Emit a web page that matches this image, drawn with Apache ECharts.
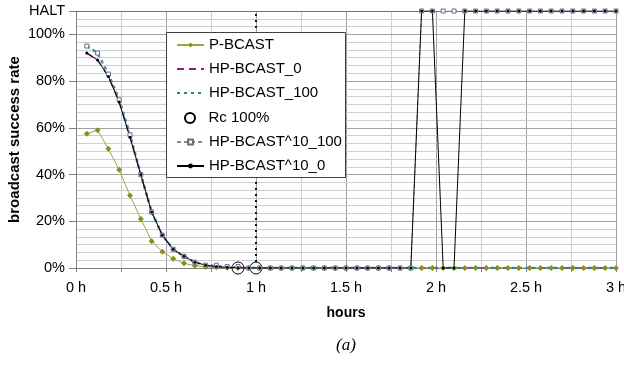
<!DOCTYPE html>
<html><head><meta charset="utf-8">
<script src="https://cdn.jsdelivr.net/npm/echarts@6/dist/echarts.min.js"></script>
<style>html,body{margin:0;padding:0;background:#fff}#c{width:624px;height:369px}</style>
</head><body><div id="c"></div>
<script>
const HALT = 110;
const hours = [0.06,0.12,0.18,0.24,0.30,0.36,0.42,0.48,0.54,0.60,0.66,0.72,0.78,0.84,0.90,0.96,1.02,1.08,1.14,1.20,1.26,1.32,1.38,1.44,1.50,1.56,1.62,1.68,1.74,1.80,1.86,1.92,1.98,2.04,2.10,2.16,2.22,2.28,2.34,2.40,2.46,2.52,2.58,2.64,2.70,2.76,2.82,2.88,2.94,3.00];
const pBcast = [57.5,59.0,51.0,42.0,31.0,21.0,11.5,7.0,4.0,2.0,1.0,0.5,0.3,0.1,0,0,0,0,0,0,0,0,0,0,0,0,0,0,0,0,0,0,0,0,0,0,0,0,0,0,0,0,0,0,0,0,0,0,0,0];
const hpBcast0 = [92,89,82,71,56,40,24,14,8,5,2.5,1.2,0.6,0.3,0.1,0,0,0,0,0,0,0,0,0,0,0,0,0,0,0,0,0,0,0,0,0,0,0,0,0,0,0,0,0,0,0,0,0,0,0];
const hpBcast100 = [95,92,83,72,57,40,24,14,8,5,2.5,1.2,0.6,0.3,0.1,0,0,0,0,0,0,0,0,0,0,0,0,0,0,0,0,0,0,0,0,0,0,0,0,0,0,0,0,0,0,0,0,0,0,0];
const hp10_100 = [95,92,83,72,57,40,24,14,8,5,2.5,1.2,1.2,0.6,0.6,0,0,0,0,0,0,0,0,0,0,0,0,0,0,0,0,HALT,HALT,HALT,HALT,HALT,HALT,HALT,HALT,HALT,HALT,HALT,HALT,HALT,HALT,HALT,HALT,HALT,HALT,HALT];
const hp10_0 = [92,89,82,71,56,40,24,14,8,5,2.5,1.2,0.6,0.3,0.1,0,0,0,0,0,0,0,0,0,0,0,0,0,0,0,0,HALT,HALT,0,0,HALT,HALT,HALT,HALT,HALT,HALT,HALT,HALT,HALT,HALT,HALT,HALT,HALT,HALT,HALT];
const rcHours = [0.9, 1.0];
const rcValues = [0, 0];
const markerHour = 1.0;
const xTickValues = [0,0.5,1,1.5,2,2.5,3];
const xTickLabels = ['0 h','0.5 h','1 h','1.5 h','2 h','2.5 h','3 h'];
const yTickValues = [0,20,40,60,80,100,110];
const yTickLabels = ['0%','20%','40%','60%','80%','100%','HALT'];

const FONT = '"Liberation Sans", Arial, sans-serif';
const zip = (xs, ys) => xs.map((x, i) => [x, ys[i]]);
const DARK = '#a0a0a0', LIGHT = '#cfcfcf';
// horizontal grid lines every 10/3 %, darker on the labelled values
const yGridLines = [];
for (let i = 1; i <= 33; i++) {
  const v = i * 10 / 3;
  yGridLines.push({yAxis: v, lineStyle: {color: i === 33 ? '#707070' : (i % 6 === 0 ? DARK : LIGHT)}});
}

const chart = echarts.init(document.getElementById('c'), null, {renderer: 'canvas'});
const legendBase = {
  orient: 'vertical', left: 176, itemWidth: 27, itemHeight: 6, itemGap: 9, padding: 0,
  selectedMode: false, z: 10,
  textStyle: {fontFamily: FONT, fontSize: 15, color: '#000'}
};
chart.setOption({
  animation: false,
  backgroundColor: '#fff',
  grid: {left: 76, right: 8, top: 11, bottom: 101, containLabel: false, outerBoundsMode: 'none'},
  xAxis: {
    type: 'value', min: 0, max: 3, interval: 0.25,
    axisLine: {show: true, lineStyle: {color: '#808080', width: 1}},
    axisTick: {show: true, length: 4, lineStyle: {color: '#808080'}},
    axisLabel: {customValues: xTickValues, formatter: v => xTickLabels[xTickValues.indexOf(v)] ?? '',
      color: '#000', fontFamily: FONT, fontSize: 14.5, margin: 12},
    splitLine: {show: true, lineStyle: {color: [DARK, LIGHT], width: 1}}
  },
  yAxis: {
    type: 'value', min: 0, max: HALT, interval: 10,
    axisLine: {show: true, lineStyle: {color: '#808080', width: 1}},
    axisTick: {show: true, customValues: yTickValues, length: 7, lineStyle: {color: '#808080'}},
    axisLabel: {customValues: yTickValues, formatter: v => yTickLabels[yTickValues.indexOf(v)] ?? '',
      color: '#000', fontFamily: FONT, fontSize: 14.5, margin: 11},
    splitLine: {show: false}
  },
  legend: [
    Object.assign({}, legendBase, {top: 37.5, data: ['P-BCAST', {name: 'HP-BCAST_0', itemStyle: {opacity: 0}}, {name: 'HP-BCAST_100', itemStyle: {opacity: 0}}]}),
    Object.assign({}, legendBase, {top: 110.5, left: 184, itemHeight: 10, data: ['Rc 100%']}),
    Object.assign({}, legendBase, {top: 134.5, data: ['HP-BCAST^10_100', 'HP-BCAST^10_0']})
  ],
  graphic: [
    {type: 'rect', z: 8, shape: {x: 166.5, y: 32.5, width: 179, height: 145}, style: {fill: '#fff', stroke: '#404040', lineWidth: 1}},
    {type: 'text', x: 15, y: 139.5, rotation: Math.PI / 2, z: 8,
      style: {text: 'broadcast success rate', fontFamily: FONT, fontSize: 15, fontWeight: 'bold', fill: '#000', align: 'center', verticalAlign: 'middle', textAlign: 'center', textVerticalAlign: 'middle'}},
    {type: 'text', x: 346, y: 313, z: 8,
      style: {text: 'hours', fontFamily: FONT, fontSize: 14, fontWeight: 'bold', fill: '#000', align: 'center', verticalAlign: 'middle', textAlign: 'center', textVerticalAlign: 'middle'}},
    {type: 'text', x: 346, y: 346, z: 8,
      style: {text: '(a)', fontFamily: '"Liberation Serif", "DejaVu Serif", serif', fontSize: 17, fontStyle: 'italic', fill: '#000', align: 'center', verticalAlign: 'middle', textAlign: 'center', textVerticalAlign: 'middle'}}
  ],
  series: [
    {name: 'grid', type: 'line', data: [], silent: true, z: 0,
      markLine: {silent: true, z: 0, symbol: ['none', 'none'], label: {show: false}, animation: false,
        lineStyle: {type: 'solid', width: 1}, emphasis: {disabled: true}, data: yGridLines}},
    {name: '1h', type: 'line', data: [[markerHour, 0], [markerHour, HALT]], symbol: 'none', silent: true,
      lineStyle: {color: '#111', width: 2, type: [2, 4]}, z: 1},
    {name: 'P-BCAST', type: 'line', data: zip(hours, pBcast), symbol: 'diamond', symbolSize: 6,
      itemStyle: {color: '#8c8c1a'}, lineStyle: {color: '#a3a33a', width: 1}},
    {name: 'HP-BCAST_0', type: 'line', data: zip(hours, hpBcast0), symbol: 'none',
      itemStyle: {color: '#8b1a8b'}, lineStyle: {color: '#8b1a8b', width: 1.5, type: [7, 5]}},
    {name: 'HP-BCAST_100', type: 'line', data: zip(hours, hpBcast100), symbol: 'none',
      itemStyle: {color: '#1a8f8f'}, lineStyle: {color: '#1a8f8f', width: 2.5, type: [3, 4]}},
    {name: 'Rc 100%', type: 'scatter', data: zip(rcHours, rcValues), symbol: 'circle', symbolSize: 12,
      itemStyle: {color: '#fff', borderColor: '#000', borderWidth: 1, opacity: 1}},
    {name: 'HP-BCAST^10_100', type: 'line', data: zip(hours, hp10_100), symbol: 'rect', symbolSize: 4,
      itemStyle: {color: '#fff', borderColor: '#6a6a8a', borderWidth: 1}, lineStyle: {color: '#8a8a8a', width: 1, type: [4, 3]}},
    {name: 'HP-BCAST^10_0', type: 'line', data: zip(hours, hp10_0), symbol: 'circle', symbolSize: 3,
      itemStyle: {color: '#000'}, lineStyle: {color: '#000', width: 1}}
  ]
});
</script></body></html>
